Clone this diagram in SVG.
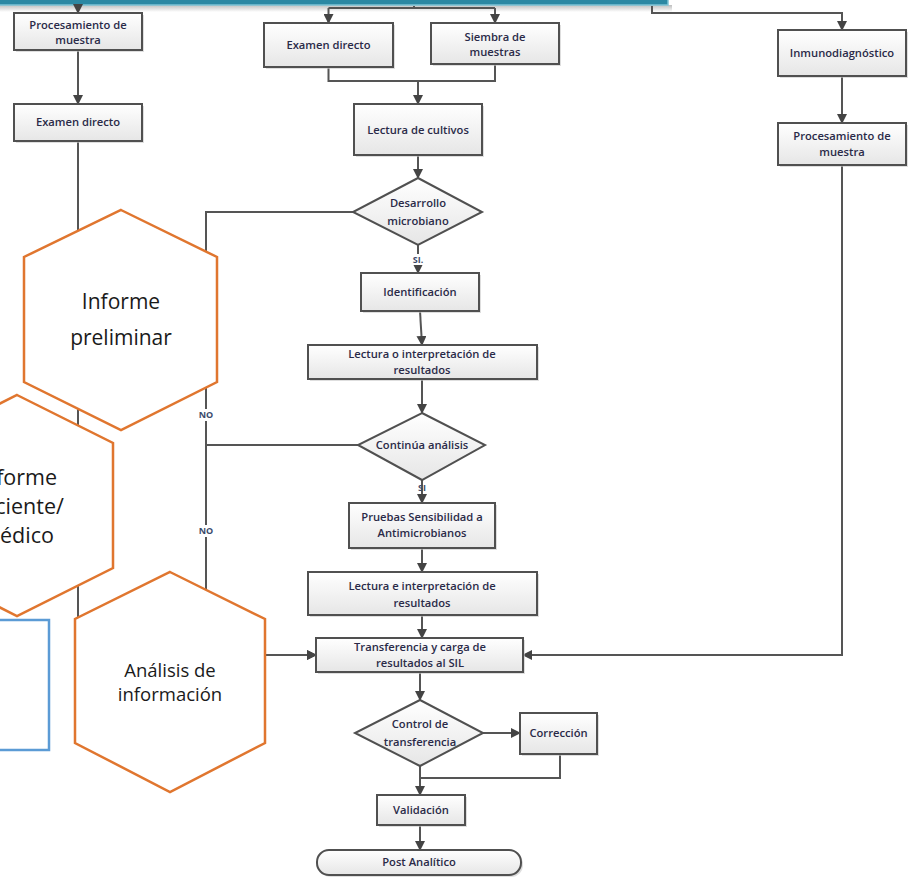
<svg xmlns="http://www.w3.org/2000/svg" width="909" height="879" viewBox="0 0 909 879">
<defs>
<linearGradient id="bf" x1="0" y1="0" x2="0" y2="1"><stop offset="0" stop-color="#ffffff"/><stop offset="1" stop-color="#e6e6e6"/></linearGradient>
<linearGradient id="bs" x1="0" y1="0" x2="0" y2="1"><stop offset="0" stop-color="#8a8a8a" stop-opacity="0.55"/><stop offset="1" stop-color="#8a8a8a" stop-opacity="0"/></linearGradient>
<marker id="ar" viewBox="0 0 10 10" refX="9" refY="5" markerWidth="10" markerHeight="10" markerUnits="userSpaceOnUse" orient="auto"><path d="M0,0 L10,5 L0,10 z" fill="#444"/></marker>
<style>
.b{fill:url(#bf);stroke:#505050;stroke-width:2}
.sh{fill:#c8c8c8;opacity:.6}
.t{font-family:"Open Sans","Noto Sans",sans-serif;font-size:11.2px;font-weight:600;fill:#2a2a48;text-anchor:middle}
.c{fill:none;stroke:#555;stroke-width:2}
.ca{fill:none;stroke:#555;stroke-width:2;marker-end:url(#ar)}
.lb{font-family:"Open Sans","Noto Sans",sans-serif;font-size:9px;font-weight:bold;fill:#3b4a6b;text-anchor:middle}
.hx{fill:#ffffff;stroke:#E0762F;stroke-width:2.5}
.ht{font-family:"Open Sans","Noto Sans",sans-serif;fill:#1a1a1a;text-anchor:middle}
</style>
</defs>
<rect width="909" height="879" fill="#ffffff"/>

<g id="banner">
<rect x="-5" y="5" width="677" height="7" fill="url(#bs)"/>
<rect x="-5" y="-10" width="673" height="15" fill="#2b88a3" stroke="#7cc3d6" stroke-width="1.5"/>
</g>

<g id="connectors">
<path class="ca" d="M78,6 V13"/>
<path class="c" d="M414,6 V8 M328.5,8 H495"/>
<path class="ca" d="M328.5,8 V23"/>
<path class="ca" d="M495,8 V23"/>
<path class="ca" d="M652,6 V13 H842 V30"/>
<path class="ca" d="M78,50 V104"/>
<path class="ca" d="M78,141 V655 H316"/>
<path class="c" d="M328.5,67 V81 H495 V64"/>
<path class="ca" d="M418,81 V104"/>
<path class="ca" d="M418,155 V178"/>
<path class="ca" d="M418,245 V273"/>
<path class="ca" d="M353,212 H206 V655 H316"/>
<path class="ca" d="M420,311 L422,345"/>
<path class="ca" d="M422,379 V413"/>
<path class="c" d="M358,445 H206"/>
<path class="ca" d="M422,480 V503"/>
<path class="ca" d="M422,548 V572"/>
<path class="ca" d="M422,615 V638"/>
<path class="ca" d="M842,76 V123"/>
<path class="ca" d="M842,165 V655 H523"/>
<path class="ca" d="M420,672 V700"/>
<path class="ca" d="M483,733 H520"/>
<path class="c" d="M560,754 V778 H420"/>
<path class="ca" d="M420,766 V795"/>
<path class="ca" d="M420,825 V850"/>
<rect x="410" y="254" width="16" height="11" fill="#fff"/>
<text class="lb" x="418" y="263">SI.</text>
<text class="lb" x="422" y="491">SI</text>
<rect x="195" y="409" width="22" height="12" fill="#fff"/>
<text class="lb" x="206" y="418">NO</text>
<rect x="195" y="525" width="22" height="12" fill="#fff"/>
<text class="lb" x="206" y="534">NO</text>
</g>

<g id="proc1"><rect class="sh" x="16" y="15" width="128" height="37"/><rect class="b" x="14" y="13" width="128" height="37"/><text class="t" x="78" y="29">Procesamiento de</text><text class="t" x="78" y="44">muestra</text></g>
<g id="exdir1"><rect class="sh" x="16" y="106" width="128" height="37"/><rect class="b" x="14" y="104" width="128" height="37"/><text class="t" x="78" y="126">Examen directo</text></g>
<g id="exdir2"><rect class="sh" x="266" y="25" width="129" height="44"/><rect class="b" x="264" y="23" width="129" height="44"/><text class="t" x="328.5" y="49">Examen directo</text></g>
<g id="siembra"><rect class="sh" x="433" y="25" width="128" height="41"/><rect class="b" x="431" y="23" width="128" height="41"/><text class="t" x="495" y="41">Siembra de</text><text class="t" x="495" y="56">muestras</text></g>
<g id="lectcult"><rect class="sh" x="356" y="106" width="128" height="51"/><rect class="b" x="354" y="104" width="128" height="51"/><text class="t" x="418" y="134">Lectura de cultivos</text></g>
<g id="desarrollo"><polygon points="418,178 482,212 418,245 353,212" fill="url(#bf)" stroke="#505050" stroke-width="2"/><text class="t" x="418" y="207">Desarrollo</text><text class="t" x="418" y="225">microbiano</text></g>
<g id="ident"><rect class="sh" x="363" y="275" width="118" height="38"/><rect class="b" x="361" y="273" width="118" height="38"/><text class="t" x="420" y="296">Identificación</text></g>
<g id="lectint"><rect class="sh" x="310" y="347" width="229" height="34"/><rect class="b" x="308" y="345" width="229" height="34"/><text class="t" x="422" y="358">Lectura o interpretación de</text><text class="t" x="422" y="374">resultados</text></g>
<g id="continua"><polygon points="422,413 485,445 422,480 358,445" fill="url(#bf)" stroke="#505050" stroke-width="2"/><text class="t" x="422" y="449">Continúa análisis</text></g>
<g id="pruebas"><rect class="sh" x="351" y="505" width="146" height="45"/><rect class="b" x="349" y="503" width="146" height="45"/><text class="t" x="422" y="521">Pruebas Sensibilidad a</text><text class="t" x="422" y="537">Antimicrobianos</text></g>
<g id="lectint2"><rect class="sh" x="310" y="574" width="229" height="43"/><rect class="b" x="308" y="572" width="229" height="43"/><text class="t" x="422" y="590">Lectura e interpretación de</text><text class="t" x="422" y="607">resultados</text></g>
<g id="transf"><rect class="sh" x="318" y="640" width="207" height="34"/><rect class="b" x="316" y="638" width="207" height="34"/><text class="t" x="420" y="651">Transferencia y carga de</text><text class="t" x="420" y="667">resultados al SIL</text></g>
<g id="control"><polygon points="420,700 483,733 420,766 355,733" fill="url(#bf)" stroke="#505050" stroke-width="2"/><text class="t" x="420" y="728">Control de</text><text class="t" x="420" y="746">transferencia</text></g>
<g id="correc"><rect class="sh" x="522" y="715" width="77" height="41"/><rect class="b" x="520" y="713" width="77" height="41"/><text class="t" x="558.5" y="737">Corrección</text></g>
<g id="valid"><rect class="sh" x="379" y="797" width="88" height="30"/><rect class="b" x="377" y="795" width="88" height="30"/><text class="t" x="421" y="814">Validación</text></g>
<g id="post"><rect class="sh" x="319" y="852" width="204" height="25" rx="12"/><rect class="b" x="317" y="850" width="204" height="25" rx="12"/><text class="t" x="419" y="866">Post Analítico</text></g>
<g id="inmuno"><rect class="sh" x="780" y="32" width="128" height="46"/><rect class="b" x="778" y="30" width="128" height="46"/><text class="t" x="842" y="57">Inmunodiagnóstico</text></g>
<g id="proc2"><rect class="sh" x="780" y="125" width="128" height="42"/><rect class="b" x="778" y="123" width="128" height="42"/><text class="t" x="842" y="140">Procesamiento de</text><text class="t" x="842" y="156">muestra</text></g>

<g id="hex-preliminar"><polygon class="hx" points="121,210 217,257 217,382 121,430 24,382 24,257"/><text class="ht" x="121" y="309" font-size="21">Informe</text><text class="ht" x="121" y="345" font-size="21">preliminar</text></g>
<g id="hex-paciente"><polygon class="hx" points="17,395 113,443 113,568 17,616 -79,568 -79,443"/><text class="ht" x="17" y="485" font-size="21.5">Informe</text><text class="ht" x="17" y="514" font-size="21.5">paciente/</text><text class="ht" x="17" y="543" font-size="21.5">médico</text></g>
<g id="blue-box"><rect x="-10" y="620" width="59" height="130" fill="#ffffff" stroke="#5B9BD5" stroke-width="2.5"/></g>
<g id="hex-analisis"><polygon class="hx" points="170,572 265,619 265,743 170,792 75,743 75,619"/><text class="ht" x="170" y="677" font-size="18.5">Análisis de</text><text class="ht" x="170" y="701" font-size="18.5">información</text></g>
</svg>
